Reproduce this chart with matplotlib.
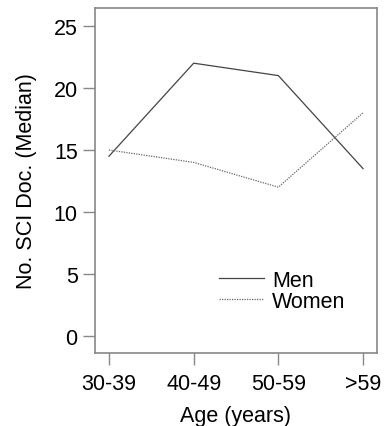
import matplotlib
matplotlib.use("Agg")
import matplotlib.pyplot as plt

categories = ["30-39", "40-49", "50-59", ">59"]
men = [14.5, 22, 21, 13.5]
women = [15, 14, 12, 18]
yticks = [0, 5, 10, 15, 20, 25]

plt.rcParams['font.family'] = ['Liberation Sans', 'DejaVu Sans']
fig = plt.figure(figsize=(3.91, 4.27), dpi=100)
ax = fig.add_axes([95/391, 1-354/427, (377-95)/391, (354-9)/427])
x = list(range(1, len(categories)+1))
l1, = ax.plot(x, men, color='#444444', lw=0.9, ls='-')
l2, = ax.plot(x, women, color='#666666', lw=0.9, ls=(0, (1, 1)))
ax.set_xlim(0.835, 4.165)
ax.set_ylim(-1.37, 26.45)
ax.set_xticks(x)
ax.set_xticklabels(categories)
ax.set_yticks(yticks)
for s in ax.spines.values():
    s.set_color('#888888')
    s.set_linewidth(1.2)
ax.tick_params(axis='both', labelsize=15.5, color='#888888', length=8.5, width=1.0, pad=4)
ax.tick_params(axis='x', pad=6)
ax.set_xlabel("Age (years)", fontsize=15.5, labelpad=8)
ax.set_ylabel("No. SCI Doc. (Median)", fontsize=15.5, labelpad=12)
leg = ax.legend([l1, l2], ["Men", "Women"], loc='lower left', bbox_to_anchor=(0.44, 0.12),
                frameon=False, fontsize=15.5, handlelength=2.1, handletextpad=0.37,
                labelspacing=0.0, borderpad=0, borderaxespad=0)
fig.savefig("out.png", dpi=100)
